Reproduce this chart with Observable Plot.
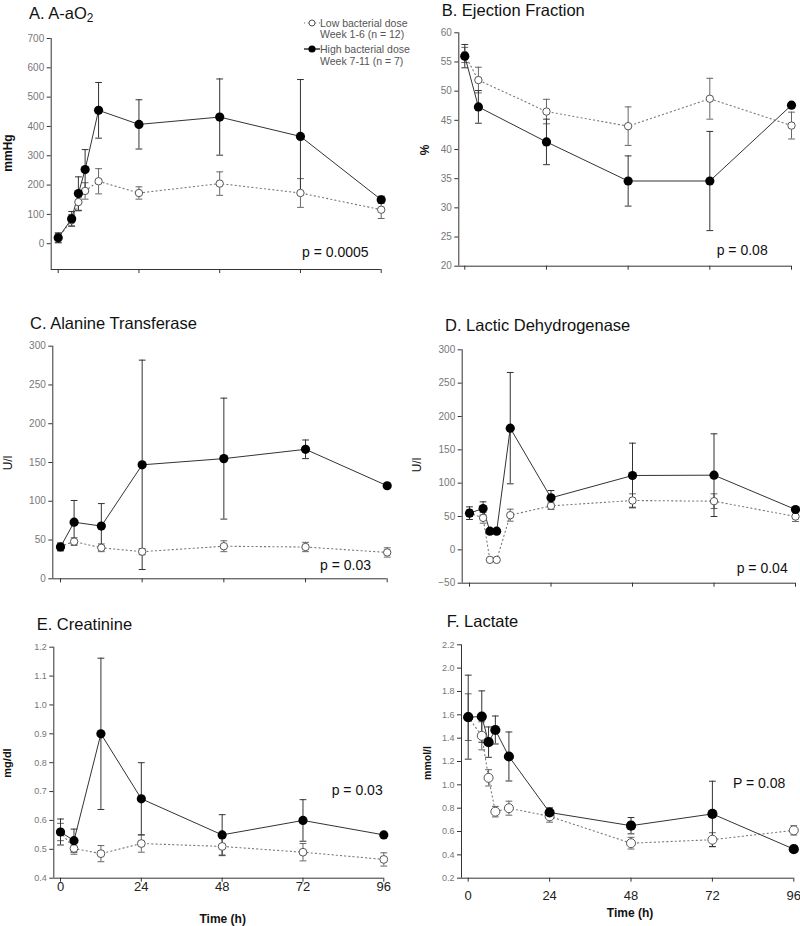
<!DOCTYPE html>
<html><head><meta charset="utf-8">
<script src="https://cdn.jsdelivr.net/npm/d3@7"></script>
<script src="https://cdn.jsdelivr.net/npm/@observablehq/plot@0.6"></script>
<style>
body{margin:0;background:#fff;font-family:"Liberation Sans",Arial,sans-serif;}
#wrap{position:relative;width:800px;height:926px;overflow:hidden;background:#fff;}
.panel{position:absolute;}
.t{position:absolute;white-space:nowrap;line-height:1;transform:translateY(-50%);}
.title{font-size:16.5px;color:#111;}
.p{font-size:14px;color:#111;}
.yl{position:absolute;white-space:nowrap;line-height:1;transform:translate(-50%,-50%) rotate(-90deg);color:#111;}
.xl{position:absolute;white-space:nowrap;line-height:1;transform:translate(-50%,-50%);font-weight:bold;font-size:12px;color:#111;}
.lg{font-size:10.5px;color:#555;}
sub{font-size:0.72em;vertical-align:-0.3em;line-height:0;}
</style></head><body><div id="wrap"></div>
<script>
// ---------- data ----------
const xTicks = [0, 24, 48, 72, 96];
const seriesNames = ["Low bacterial dose", "High bacterial dose"];

// A. A-aO2 (mmHg)
const timeA = [0, 4, 6, 8, 12, 24, 48, 72, 96];
const lowA = [20, 80, 142, 180, 213, 173, 205, 173, 116];
const lowA_se = [15, 20, 30, 28, 43, 21, 40, 49, 30];
const highA = [20, 85, 171, 253, 455, 407, 432, 366, 150];
const highA_se = [17, 25, 57, 68, 95, 84, 130, 194, 12];
const yTicksA = [0, 100, 200, 300, 400, 500, 600, 700];

// B. Ejection Fraction (%)
const timeB = [0, 4, 24, 48, 72, 96];
const lowB = [56.2, 51.9, 46.5, 44.0, 48.7, 44.1];
const lowB_se = [1.3, 2.2, 2.1, 3.3, 3.5, 2.3];
const highB = [56.0, 47.3, 41.3, 34.6, 34.6, 47.6];
const highB_se = [2.0, 2.8, 3.9, 4.3, 8.5, 0];
const yTicksB = [20, 25, 30, 35, 40, 45, 50, 55, 60];

// C. Alanine Transferase (U/l)
const timeC = [0, 4, 12, 24, 48, 72, 96];
const lowC = [42, 48, 40, 35, 42, 41, 34];
const lowC_se = [4, 5, 5, 4, 7, 6, 6];
const highC = [41, 73, 68, 147, 155, 167, 120];
const highC_se = [5, 28, 29, 135, 78, 12, 0];
const yTicksC = [0, 50, 100, 150, 200, 250, 300];

// D. Lactic Dehydrogenase (U/l)
const timeD = [0, 4, 6, 8, 12, 24, 48, 72, 96];
const lowD = [55, 48, -15, -15, 52, 66, 74, 73, 50];
const lowD_se = [5, 8, 0, 0, 9, 5.5, 10, 11, 7.5];
const highD = [55, 62, 28, 28, 182.5, 78, 111.5, 112, 60.5];
const highD_se = [9.5, 10, 0, 0, 83.5, 11, 48.5, 62, 0];
const yTicksD = [-50, 0, 50, 100, 150, 200, 250, 300];

// E. Creatinine (mg/dl)
const timeE = [0, 4, 12, 24, 48, 72, 96];
const lowE = [0.56, 0.503, 0.485, 0.52, 0.51, 0.49, 0.465];
const lowE_se = [0.03, 0.02, 0.028, 0.03, 0.032, 0.03, 0.023];
const highE = [0.56, 0.53, 0.90, 0.675, 0.55, 0.60, 0.55];
const highE_se = [0.045, 0.04, 0.262, 0.125, 0.07, 0.072, 0];
const yTicksE = [0.4, 0.5, 0.6, 0.7, 0.8, 0.9, 1.0, 1.1, 1.2];

// F. Lactate (mmol/l)
const timeF = [0, 4, 6, 8, 12, 24, 48, 72, 96];
const lowF = [1.58, 1.42, 1.06, 0.77, 0.80, 0.73, 0.50, 0.53, 0.61];
const lowF_se = [0.2, 0.12, 0.07, 0.045, 0.06, 0.05, 0.05, 0.06, 0.04];
const highF = [1.58, 1.585, 1.366, 1.47, 1.243, 0.763, 0.65, 0.751, 0.449];
const highF_se = [0.36, 0.22, 0.13, 0.12, 0.21, 0.04, 0.07, 0.28, 0];
const yTicksF = [0.2, 0.4, 0.6, 0.8, 1.0, 1.2, 1.4, 1.6, 1.8, 2.0, 2.2];

// ---------- drawing ----------
const wrap = document.getElementById("wrap");
const capSymbol = {draw(ctx, size) { const w = Math.sqrt(size / Math.PI); ctx.moveTo(-w, 0); ctx.lineTo(w, 0); }};

function rows(times, mean, se) {
  return times.map((t, i) => ({t, v: mean[i], se: se[i]}));
}
function errBars(data, stroke) {
  const d = data.filter(r => r.se > 0);
  return [
    Plot.ruleX(d, {x: "t", y1: r => r.v - r.se, y2: r => r.v + r.se, stroke, strokeWidth: 1}),
    Plot.dot(d, {x: "t", y: r => r.v + r.se, symbol: capSymbol, r: 3.4, stroke, fill: "none", strokeWidth: 1}),
    Plot.dot(d, {x: "t", y: r => r.v - r.se, symbol: capSymbol, r: 3.4, stroke, fill: "none", strokeWidth: 1})
  ];
}

function panel(p) {
  const lo = rows(p.times, p.low, p.lowSE);
  const hi = rows(p.times, p.high, p.highSE);
  const chart = Plot.plot({
    width: 400, height: p.height,
    marginLeft: p.mL, marginRight: p.mR, marginTop: p.mT, marginBottom: p.mB,
    x: {domain: [p.x0, 96]},
    y: {domain: p.yDomain},
    style: {fontFamily: "Liberation Sans, Arial, sans-serif", background: "transparent", overflow: "visible"},
    marks: [
      Plot.ruleY([p.yDomain[0]], {stroke: "#333"}),
      Plot.ruleX([p.x0], {stroke: "#333"}),
      Plot.axisY({ticks: p.yTicks, tickSize: 4, tickPadding: 3, fontSize: p.yFont, stroke: "#333", fill: "#777",
        tickFormat: p.yFmt, label: null}),
      Plot.axisX({ticks: xTicks, tickSize: 4, tickPadding: p.xPad, fontSize: 13, stroke: "#333", fill: "#222",
        tickFormat: p.xLabels ? (d => String(d)) : (() => ""), label: null}),
      Plot.line(lo, {x: "t", y: "v", stroke: "#777", strokeWidth: 1.1, strokeDasharray: "1.2,3"}),
      ...errBars(lo, "#666"),
      Plot.line(hi, {x: "t", y: "v", stroke: "#333", strokeWidth: 1}),
      ...errBars(hi, "#333"),
      Plot.dot(lo, {x: "t", y: "v", r: p.rLow, fill: "white", stroke: "#555", strokeWidth: 1}),
      Plot.dot(hi, {x: "t", y: "v", r: p.rHigh, fill: "#000", stroke: "none"})
    ]
  });
  chart.classList.add("panel");
  chart.style.left = p.left + "px";
  chart.style.top = p.top + "px";
  wrap.appendChild(chart);
}

const fmt1 = d3.format(".1f");
panel({left: 0, top: 0, height: 300, mL: 50.7, mR: 19.3, mT: 38, mB: 31, x0: -2.08, yDomain: [-88, 700], yTicks: yTicksA,
  yFont: 10, times: timeA, low: lowA, lowSE: lowA_se, high: highA, highSE: highA_se, rLow: 3.7, rHigh: 4.6, xPad: 3});
panel({left: 400, top: 0, height: 300, mL: 58.3, mR: 9, mT: 32.3, mB: 34.3, x0: -1.76, yDomain: [20, 60], yTicks: yTicksB,
  yFont: 10, times: timeB, low: lowB, lowSE: lowB_se, high: highB, highSE: highB_se, rLow: 3.7, rHigh: 4.6, xPad: 3});
panel({left: 0, top: 300, height: 310, mL: 52.3, mR: 13.3, mT: 45.7, mB: 31.7, x0: -2.26, yDomain: [0, 300], yTicks: yTicksC,
  yFont: 10, times: timeC, low: lowC, lowSE: lowC_se, high: highC, highSE: highC_se, rLow: 3.7, rHigh: 4.6, xPad: 3});
panel({left: 400, top: 300, height: 310, mL: 61.7, mR: 5, mT: 49.3, mB: 27.3, x0: -2.15, yDomain: [-50, 300], yTicks: yTicksD,
  yFont: 10, times: timeD, low: lowD, lowSE: lowD_se, high: highD, highSE: highD_se, rLow: 3.7, rHigh: 4.6, xPad: 3});
panel({left: 0, top: 610, height: 316, mL: 53.3, mR: 16.7, mT: 36.7, mB: 48.3, x0: -1.99, yDomain: [0.4, 1.2], yTicks: yTicksE,
  yFont: 9, yFmt: fmt1, times: timeE, low: lowE, lowSE: lowE_se, high: highE, highSE: highE_se, rLow: 3.9, rHigh: 4.6, xPad: 0, xLabels: true});
panel({left: 400, top: 610, height: 316, mL: 61, mR: 6.7, mT: 34.3, mB: 48.3, x0: -1.98, yDomain: [0.2, 2.2], yTicks: yTicksF,
  yFont: 9, yFmt: fmt1, times: timeF, low: lowF, lowSE: lowF_se, high: highF, highSE: highF_se, rLow: 4.5, rHigh: 5.1, xPad: 9, xLabels: true});

// ---------- text ----------
function txt(html, cls, x, y, extra) {
  const d = document.createElement("div");
  d.className = cls;
  d.innerHTML = html;
  d.style.left = x + "px";
  d.style.top = y + "px";
  if (extra) Object.assign(d.style, extra);
  wrap.appendChild(d);
  return d;
}
// titles
txt("A. A-aO<sub>2</sub>", "t title", 29, 13);
txt("B. Ejection Fraction", "t title", 441.7, 9.5);
txt("C. Alanine Transferase", "t title", 30, 322.7);
txt("D. Lactic Dehydrogenase", "t title", 445, 325);
txt("E. Creatinine", "t title", 36.7, 624);
txt("F. Lactate", "t title", 446.7, 621);
// p values
txt("p = 0.0005", "t p", 302, 252);
txt("p = 0.08", "t p", 716.7, 250);
txt("p = 0.03", "t p", 320, 565);
txt("p = 0.04", "t p", 736.7, 568);
txt("p = 0.03", "t p", 331.7, 790);
txt("P = 0.08", "t p", 733, 782.7);
// y labels
txt("mmHg", "yl", 8, 153, {fontSize: "12px", fontWeight: "bold"});
txt("%", "yl", 425, 150, {fontSize: "12px", fontWeight: "bold"});
txt("U/l", "yl", 7.5, 463, {fontSize: "12px"});
txt("U/l", "yl", 417, 465, {fontSize: "12px"});
txt("mg/dl", "yl", 7, 763, {fontSize: "11px", fontWeight: "bold"});
txt("mmol/l", "yl", 427, 763, {fontSize: "10.5px", fontWeight: "bold"});
// x labels
txt("Time (h)", "xl", 222.7, 919);
txt("Time (h)", "xl", 630, 913);
// legend
const lg = document.createElementNS("http://www.w3.org/2000/svg", "svg");
lg.setAttribute("width", 20); lg.setAttribute("height", 40);
lg.style.position = "absolute"; lg.style.left = "302px"; lg.style.top = "16px";
lg.innerHTML = '<line x1="2" x2="18" y1="7" y2="7" stroke="#777" stroke-dasharray="1.2,2.5"/>' +
  '<circle cx="10" cy="7" r="3" fill="white" stroke="#555"/>' +
  '<line x1="2" x2="18" y1="33" y2="33" stroke="#333" stroke-width="1.5"/>' +
  '<circle cx="10" cy="33" r="3.6" fill="#000"/>';
wrap.appendChild(lg);
txt(seriesNames[0], "t lg", 320, 23);
txt("Week 1-6 (n = 12)", "t lg", 320, 34);
txt(seriesNames[1], "t lg", 320, 49);
txt("Week 7-11 (n = 7)", "t lg", 320, 61);
</script></body></html>
